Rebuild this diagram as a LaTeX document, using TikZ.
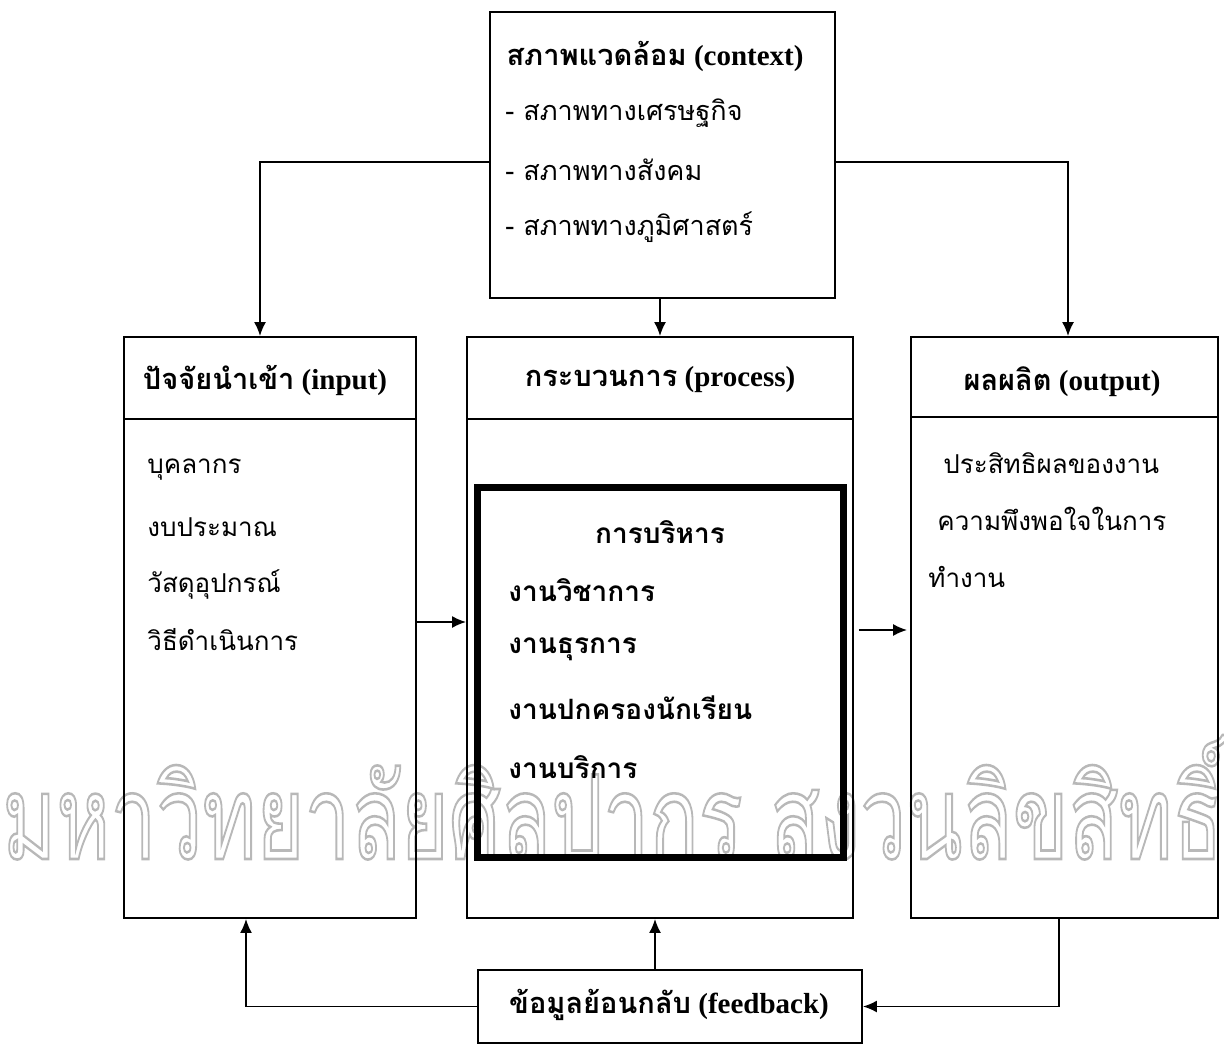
\documentclass[tikz,border=0pt]{standalone}
\usepackage{fontspec}
\setmainfont{Liberation Serif}
\newfontfamily\thaifont[Script=Thai]{Loma}
\usepackage{tikz}
\usetikzlibrary{arrows.meta}

\begin{document}
\begin{tikzpicture}[x=0.5pt,y=-0.5pt,
    box/.style={draw,line width=0.9pt,inner sep=0pt},
    arr/.style={-{Latex[length=7pt,width=6pt]},line width=0.9pt},
    txt/.style={font=\fontsize{13}{16}\selectfont\thaifont,anchor=west,inner sep=0pt},
    btxt/.style={font=\fontsize{14}{17}\selectfont\bfseries\thaifont,anchor=west,inner sep=0pt},
    head/.style={font=\fontsize{14.5}{17}\selectfont\bfseries,inner sep=0pt}]
    \useasboundingbox (0,0) rectangle (1224,1048);
    % watermark
    \node[inner sep=0pt,anchor=south west] (wm) at (2,860)
        {\resizebox{610pt}{62pt}{\color{black!28}\special{pdf:literal direct 1 Tr 0.22 w}\thaifont มหาวิทยาลัยศิลปากร สงวนลิขสิทธิ์\special{pdf:literal direct 0 Tr}}};
    % boxes
    \node[box,minimum width=172.5pt,minimum height=143pt] (ctx) at (662.5,155) {};
    \node[box,minimum width=146pt,minimum height=290.5pt] (inp) at (270,627.5) {};
    \node[box,minimum width=193pt,minimum height=290.5pt] (prc) at (660,627.5) {};
    \node[box,minimum width=153.5pt,minimum height=290.5pt] (out) at (1064.5,627.5) {};
    \node[box,minimum width=192pt,minimum height=36.5pt] (fb) at (670,1006.5) {};
    \node[draw,line width=3.5pt,minimum width=183pt,minimum height=185pt] (adm) at (660,672) {};
    % header lines
    \draw[line width=0.9pt] (inp.west |- 0,419) -- (inp.east |- 0,419);
    \draw[line width=0.9pt] (prc.west |- 0,419) -- (prc.east |- 0,419);
    \draw[line width=0.9pt] (out.west |- 0,417) -- (out.east |- 0,417);
    % texts
    \node[head] (ctxt) at (655,56) {{\thaifont สภาพแวดล้อม} (context)};
    \node[txt,font=\fontsize{13.5}{16}\selectfont\thaifont] (c1) at (505,113) {- สภาพทางเศรษฐกิจ};
    \node[txt,font=\fontsize{13.5}{16}\selectfont\thaifont] (c2) at (505,170) {- สภาพทางสังคม};
    \node[txt,font=\fontsize{13.5}{16}\selectfont\thaifont] (c3) at (505,227) {- สภาพทางภูมิศาสตร์};
    \node[head] (inpt) at (265,380) {{\thaifont ปัจจัยนำเข้า} (input)};
    \node[txt] (i1) at (147,470) {บุคลากร};
    \node[txt] (i2) at (147,527) {งบประมาณ};
    \node[txt] (i3) at (147,584) {วัสดุอุปกรณ์};
    \node[txt] (i4) at (147,640) {วิธีดำเนินการ};
    \node[head] (prct) at (660,380) {{\thaifont กระบวนการ} (process)};
    \node[btxt,anchor=center] (admt) at (660,532) {การบริหาร};
    \node[btxt] (a1) at (508,590) {งานวิชาการ};
    \node[btxt] (a2) at (508,649) {งานธุรการ};
    \node[btxt] (a3) at (508,708) {งานปกครองนักเรียน};
    \node[btxt] (a4) at (508,767) {งานบริการ};
    \node[head] (outt) at (1062,382) {{\thaifont ผลผลิต} (output)};
    \node[txt] (o1) at (943,463) {ประสิทธิผลของงาน};
    \node[txt] (o2) at (937,519) {ความพึงพอใจในการ};
    \node[txt] (o3) at (928,577) {ทำงาน};
    \node[head] (fbt) at (669,1005) {{\thaifont ข้อมูลย้อนกลับ} (feedback)};
    % arrows
    \draw[arr] ([yshift=-3.5pt]ctx.west) -| ([xshift=-5pt]inp.north);
    \draw[arr] ([yshift=-3.5pt]ctx.east) -| ([xshift=1.75pt]out.north);
    \draw[arr] ([xshift=-1.25pt]ctx.south) -- ([xshift=-1.25pt]ctx.south |- prc.north);
    \draw[arr] ([yshift=2.75pt]inp.east) -- ([yshift=2.75pt]prc.west);
    \draw[arr] ([xshift=2.5pt,yshift=-1.25pt]prc.east) -- ([xshift=-1.5pt,yshift=-1.25pt]out.west);
    \draw[arr] (fb.west) -| ([xshift=-12pt]inp.south);
    \draw[arr] ([xshift=-7.5pt]fb.north) -- ([xshift=-7.5pt]fb.north |- prc.south);
    \draw[arr] ([xshift=-2.75pt]out.south) |- (fb.east);
\end{tikzpicture}
\end{document}
